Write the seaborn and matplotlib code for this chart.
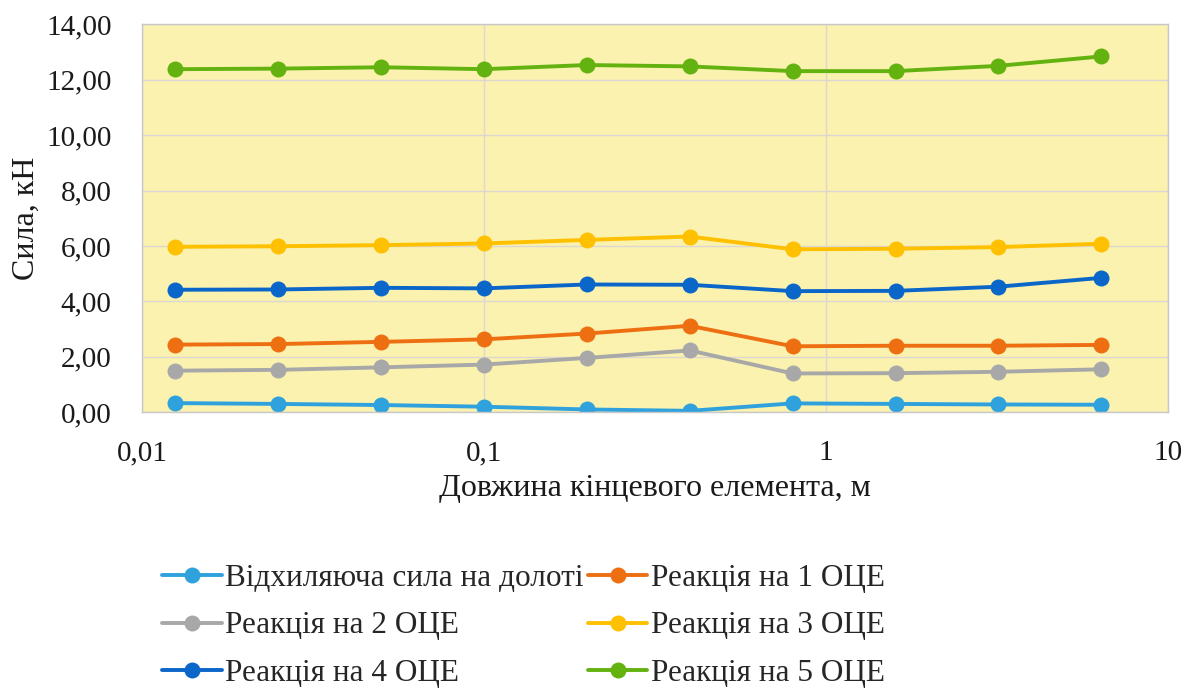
import numpy as np
import pandas as pd
import matplotlib
matplotlib.use("Agg")
import matplotlib.pyplot as plt
from matplotlib.ticker import FuncFormatter, FixedLocator, NullLocator
import seaborn as sns

# data
lengths = [0.0125, 0.025, 0.05, 0.1, 0.2, 0.4, 0.8, 1.6, 3.2, 6.4]
series_names = [
    "Відхиляюча сила на долоті",
    "Реакція на 1 ОЦЕ",
    "Реакція на 2 ОЦЕ",
    "Реакція на 3 ОЦЕ",
    "Реакція на 4 ОЦЕ",
    "Реакція на 5 ОЦЕ",
]
deflect = [0.33, 0.30, 0.26, 0.20, 0.10, 0.05, 0.32, 0.30, 0.28, 0.27]
react1 = [2.44, 2.46, 2.54, 2.63, 2.84, 3.12, 2.38, 2.40, 2.40, 2.43]
react2 = [1.50, 1.53, 1.62, 1.72, 1.96, 2.23, 1.40, 1.41, 1.46, 1.55]
react3 = [5.97, 5.99, 6.03, 6.09, 6.22, 6.34, 5.88, 5.90, 5.96, 6.08]
react4 = [4.42, 4.43, 4.49, 4.47, 4.61, 4.60, 4.37, 4.38, 4.53, 4.85]
react5 = [12.38, 12.40, 12.45, 12.38, 12.53, 12.48, 12.31, 12.31, 12.50, 12.84]
colors = ["#2FA2DD", "#EE6E12", "#A8A8A8", "#FFC000", "#0B66C9", "#63B20F"]

values = [deflect, react1, react2, react3, react4, react5]
df = pd.DataFrame({
    "x": lengths * len(series_names),
    "y": sum(values, []),
    "series": np.repeat(series_names, len(lengths)),
})

sns.set_style("white")
plt.rcParams["font.family"] = ["Liberation Serif", "DejaVu Serif"]

fig = plt.figure(figsize=(11.95, 6.94), dpi=100)
ax = fig.add_axes([0.119, 0.406, 0.858, 0.559])
ax.set_facecolor("#FAF2AE")

sns.lineplot(data=df, x="x", y="y", hue="series", hue_order=series_names,
             palette=colors, marker="o", markersize=11.5, markeredgewidth=0,
             linewidth=2.8, ax=ax)

ax.set_xscale("log")
ax.set_xlim(0.01, 10)
ax.set_ylim(0, 14)
ax.xaxis.set_major_locator(FixedLocator([0.01, 0.1, 1, 10]))
ax.xaxis.set_minor_locator(NullLocator())
ax.xaxis.set_major_formatter(FuncFormatter(lambda v, p: f"{v:g}".replace(".", ",")))
ax.set_yticks(np.arange(0, 15, 2))
ax.yaxis.set_major_formatter(FuncFormatter(lambda v, p: f"{v:.2f}".replace(".", ",")))

ax.grid(True, color="#DDD6D2", linewidth=1)
for s in ax.spines.values():
    s.set_color("#C8C8C8")
    s.set_linewidth(1)
ax.tick_params(axis="both", length=0, labelsize=21, colors="#1a1a1a")
ax.tick_params(axis="x", pad=20)
ax.tick_params(axis="y", pad=22)

ax.set_xlabel("Довжина кінцевого елемента, м", fontsize=23, labelpad=6, color="#1a1a1a")
ax.set_ylabel("Сила, кН", fontsize=23, labelpad=4, color="#1a1a1a")

handles, labels = ax.get_legend_handles_labels()
ax.get_legend().remove()
order = [0, 2, 4, 1, 3, 5]
fig.legend([handles[i] for i in order], [labels[i] for i in order],
           ncol=2, loc="center", bbox_to_anchor=(0.438, 0.098),
           frameon=False, fontsize=22.5, handlelength=1.9, handletextpad=0.1,
           columnspacing=0.15, labelspacing=0.6, borderpad=0)

fig.savefig("out.png", dpi=100)
